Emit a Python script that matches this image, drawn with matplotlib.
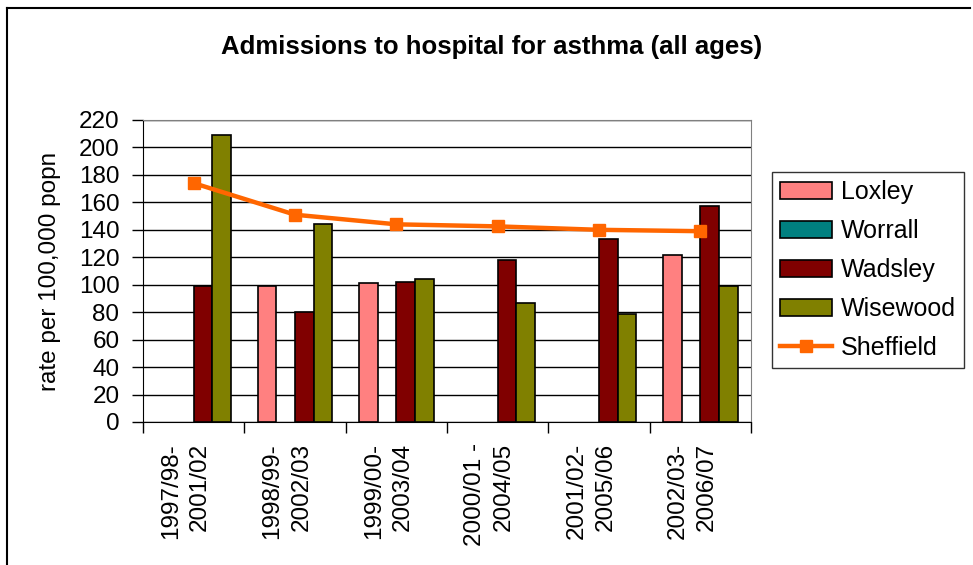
import numpy as np
import matplotlib
matplotlib.use("Agg")
import matplotlib.pyplot as plt
from matplotlib.lines import Line2D
from matplotlib.transforms import ScaledTranslation

plt.rcParams['font.family'] = ['Liberation Sans', 'DejaVu Sans']

categories = ["1997/98-\n2001/02", "1998/99-\n2002/03", "1999/00-\n2003/04",
              "2000/01 -\n2004/05", "2001/02-\n2005/06", "2002/03-\n2006/07"]
loxley = [np.nan, 99, 101, np.nan, np.nan, 122]
worrall = [np.nan, np.nan, np.nan, np.nan, np.nan, np.nan]
wadsley = [99, 80, 102, 118, 133, 157]
wisewood = [209, 144, 104, 87, 79, 99]
sheffield = [174, 151, 144, 142.5, 140, 139]
yticks = list(range(0, 221, 20))

W, H = 973, 565
fig = plt.figure(figsize=(W / 100, H / 100), dpi=100)
ax = fig.add_axes([143 / W, 1 - 422 / H, (751 - 143) / W, (422 - 120) / H])

x = np.arange(len(categories))
w = 0.185
series = [("Loxley", loxley, "#FF8080"), ("Worrall", worrall, "#008080"),
          ("Wadsley", wadsley, "#800000"), ("Wisewood", wisewood, "#808000")]
handles = []
for i, (name, vals, col) in enumerate(series):
    b = ax.bar(x + (i - 1.5) * w, vals, width=w, color=col, edgecolor="black",
               linewidth=1.2, label=name, zorder=3)
    handles.append(b)
ln, = ax.plot(x, sheffield, color="#FF6600", lw=3.2, marker="s", markersize=9,
              label="Sheffield", zorder=4)
handles.append(ln)

ax.set_xlim(-0.5, len(categories) - 0.5)
ax.set_ylim(0, 220)
ax.set_yticks(yticks)
ax.yaxis.grid(True, color="black", lw=1, zorder=0)
ax.set_axisbelow(True)
ax.tick_params(axis="y", direction="out", length=8, width=1, labelsize=17.5, pad=9)
ax.set_xticks(x)
ax.set_xticklabels(categories, rotation=90, fontsize=17.5, ha="center", va="top",
                   multialignment="right", linespacing=1.4)
ax.tick_params(axis="x", length=0, pad=15)
shift = ScaledTranslation(-8 / 100, 0, fig.dpi_scale_trans)
for lab in ax.get_xticklabels():
    lab.set_transform(lab.get_transform() + shift)
ax.set_xticks(np.arange(-0.5, len(categories), 1), minor=True)
ax.tick_params(axis="x", which="minor", direction="out", length=8, width=1)
for s in ["left", "bottom"]:
    ax.spines[s].set_color("black")
for s in ["top", "right"]:
    ax.spines[s].set_color("#808080")

fig.text(50 / W, 1 - 271 / H, "rate per 100,000 popn", fontsize=17.5, rotation=90,
         ha="center", va="center")

fig.text(492 / W, 1 - 47 / H, "Admissions to hospital for asthma (all ages)",
         fontsize=18.5, fontweight="bold", ha="center", va="center")

leg = fig.legend(handles=handles, loc="upper left", bbox_to_anchor=(772 / W, 1 - 172 / H),
                 fontsize=18, frameon=True, fancybox=False, edgecolor="black",
                 borderpad=0.32, labelspacing=0.6, handlelength=2.08, handleheight=0.65,
                 handletextpad=0.36, borderaxespad=0)
leg.get_frame().set_linewidth(1)

fig.add_artist(Line2D([7 / W, 7 / W], [0, 1 - 8 / H], color="black", lw=1.5))
fig.add_artist(Line2D([7 / W, 970 / W], [1 - 8 / H, 1 - 8 / H], color="black", lw=1.5))

fig.savefig("out.png", dpi=100)
